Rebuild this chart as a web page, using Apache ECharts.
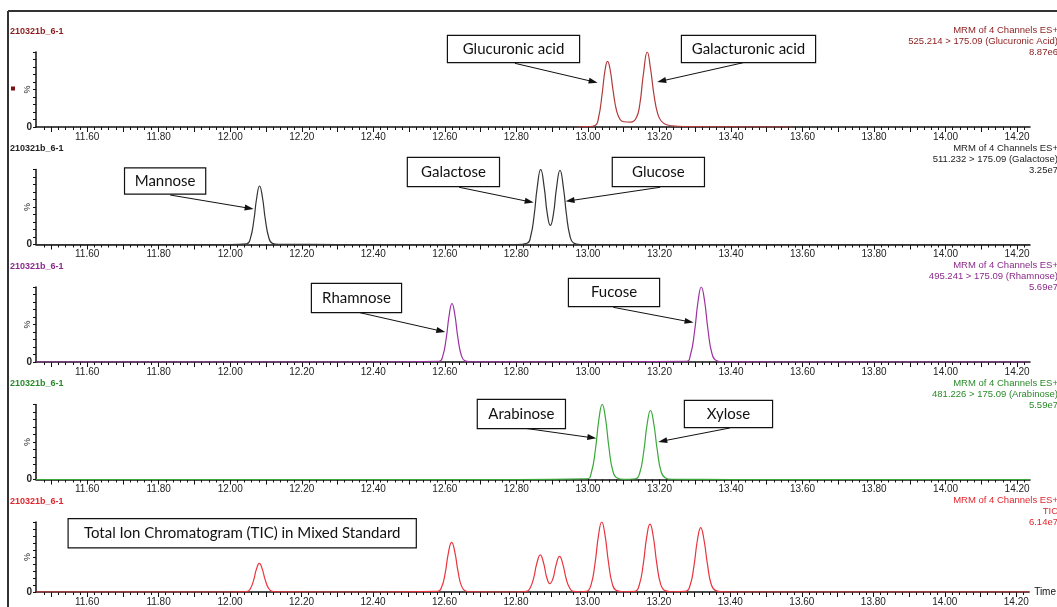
<!DOCTYPE html>
<html>
<head>
<meta charset="utf-8">
<script src="https://cdn.jsdelivr.net/npm/echarts@6/dist/echarts.min.js"></script>
<style>
html, body { margin: 0; padding: 0; background: #fff; }
#main { width: 1057px; height: 607px; }
</style>
</head>
<body>
<div id="main"></div>
<script>
// run / channel headers
var runName = '210321b_6-1';
var channelText = [
    '525.214 > 175.09 (Glucuronic Acid)',
    '511.232 > 175.09 (Galactose)',
    '495.241 > 175.09 (Rhamnose)',
    '481.226 > 175.09 (Arabinose)',
    'TIC'
];
var maxText = ['8.87e6', '3.25e7', '5.69e7', '5.59e7', '6.14e7'];
var xTickLabels = [11.60, 11.80, 12.00, 12.20, 12.40, 12.60, 12.80, 13.00, 13.20, 13.40, 13.60, 13.80, 14.00, 14.20];

// panel 1: uronic acids (time in min, % of max)
var acidTime = [12.970, 13.000, 13.020, 13.030, 13.040, 13.048, 13.055, 13.062, 13.070, 13.080, 13.090, 13.100, 13.120,
    13.135, 13.145, 13.155, 13.166, 13.175, 13.185, 13.195, 13.205, 13.220, 13.250, 13.300, 13.400, 13.570];
var acidPct = [0, 0.5, 2, 13, 45, 76, 87.6, 77, 50, 22, 10, 7, 6.5,
    12, 30, 70, 100, 78, 42, 18, 8, 3, 1, 0.5, 0.3, 0];

// panel 2: hexoses
var hexTime = [11.457, 12.000, 12.046, 12.056, 12.066, 12.074, 12.082, 12.090, 12.098, 12.108, 12.118, 12.135, 12.300,
    12.800, 12.830, 12.840, 12.850, 12.858, 12.868, 12.878, 12.886, 12.895, 12.904, 12.912, 12.922, 12.932, 12.940,
    12.950, 12.960, 12.978, 13.200, 14.236];
var hexPct = [0, 0, 1, 7.5, 32, 62, 78, 63, 34, 9, 1.5, 0.3, 0,
    0, 1.7, 11, 40, 75, 100, 75.5, 42.5, 25.5, 42, 74.5, 99, 74, 40,
    11, 2, 0, 0, 0];

// panel 3: deoxy sugars
var deoxyTime = [11.457, 12.400, 12.584, 12.594, 12.604, 12.612, 12.620, 12.628, 12.636, 12.646, 12.656, 12.670, 12.900,
    13.275, 13.287, 13.298, 13.308, 13.317, 13.326, 13.336, 13.347, 13.359, 13.377, 13.500, 14.236];
var deoxyPct = [0, 0, 1, 7.5, 32, 62, 78, 63, 34, 9, 1.5, 0.3, 0,
    1, 10, 40, 81, 100, 82, 42, 11, 2, 0.3, 0, 0];

// panel 4: pentoses
var pentTime = [11.457, 12.800, 12.998, 13.010, 13.021, 13.031, 13.040, 13.049, 13.059, 13.070, 13.082, 13.100,
    13.133, 13.145, 13.156, 13.166, 13.175, 13.184, 13.194, 13.205, 13.217, 13.235, 13.400, 14.236];
var pentPct = [0, 0, 1, 10, 40, 81, 100, 82, 42, 11, 2, 0.3,
    1, 9, 37, 75, 92, 75, 39, 10, 2, 0.3, 0, 0];

// panel 5: TIC
var ticTime = [11.457, 12.000, 12.046, 12.056, 12.066, 12.074, 12.082, 12.090, 12.098, 12.108, 12.118, 12.135, 12.400,
    12.581, 12.592, 12.602, 12.611, 12.620, 12.629, 12.638, 12.648, 12.659, 12.675, 12.800,
    12.830, 12.840, 12.850, 12.858, 12.868, 12.878, 12.886, 12.895, 12.904, 12.912, 12.922, 12.932, 12.940, 12.950, 12.960, 12.978,
    12.998, 13.010, 13.021, 13.031, 13.040, 13.049, 13.059, 13.070, 13.082, 13.100,
    13.133, 13.145, 13.156, 13.166, 13.175, 13.184, 13.194, 13.205, 13.217, 13.235,
    13.275, 13.287, 13.298, 13.308, 13.317, 13.326, 13.336, 13.347, 13.359, 13.377, 13.450, 14.236];
var ticPct = [0, 0, 0.5, 4, 17, 33, 41, 33, 18, 5, 1, 0.2, 0,
    1, 7, 27, 56, 71, 57, 29, 8, 1.5, 0.2, 0,
    1, 6, 21, 40, 53, 40, 21, 12, 20, 38, 51, 38, 20, 6, 1, 0.3,
    1, 10, 40, 81, 100, 82, 42, 11, 2, 0.3,
    1, 10, 39, 79, 97, 80, 41, 11, 2, 0.3,
    1, 9, 37, 75, 92, 75, 39, 10, 2, 0.3, 0, 0];

// callout boxes + arrows, in data coords of each panel
var notes = [
    { panel: 0, text: 'Glucuronic acid', at: [12.792, 90], dy: -10.5, size: [133, 28], arrow: [[12.796, 84.9], [13.015, 60.4]] },
    { panel: 0, text: 'Galacturonic acid', at: [13.449, 90], dy: -10.5, size: [135, 28], arrow: [[13.434, 85.7], [13.206, 61.3]] },
    { panel: 1, text: 'Mannose', at: [11.818, 84.7], dy: 0, size: [82, 27], arrow: [[11.832, 66], [12.053, 48.3]] },
    { panel: 1, text: 'Galactose', at: [12.624, 96.7], dy: 0, size: [93, 30], arrow: [[12.640, 76.3], [12.836, 57.1]] },
    { panel: 1, text: 'Glucose', at: [13.197, 96.7], dy: 0, size: [93, 30], arrow: [[13.202, 76.3], [12.950, 58.4]] },
    { panel: 2, text: 'Rhamnose', at: [12.353, 85.3], dy: 0, size: [91, 30], arrow: [[12.363, 65.7], [12.589, 41.3]] },
    { panel: 2, text: 'Fucose', at: [13.073, 92.7], dy: 0, size: [92, 29], arrow: [[13.071, 72.9], [13.283, 53.7]] },
    { panel: 3, text: 'Arabinose', at: [12.814, 87.3], dy: 0, size: [89, 30], arrow: [[12.824, 68.3], [13.011, 55.7]] },
    { panel: 3, text: 'Xylose', at: [13.393, 87.3], dy: 0, size: [89, 28], arrow: [[13.397, 68.7], [13.209, 51.3]] },
    { panel: 4, text: 'Total Ion Chromatogram (TIC) in Mixed Standard', at: [12.034, 84], dy: 0, size: [349, 30], arrow: null }
];

var lineColors = ['#b03a3a', '#333333', '#9b30a0', '#38a838', '#e8343c'];
var textColors = ['#8b1c1c', '#222222', '#8b2a8b', '#2a8a2a', '#e0262e'];
var gridTop = [52, 169.5, 287, 404.5, 522];
var tMin = 11.457, tMax = 14.236;

function pairs(t, y) {
    return t.map(function (v, k) { return [v, y[k]]; });
}
var traces = [pairs(acidTime, acidPct), pairs(hexTime, hexPct), pairs(deoxyTime, deoxyPct),
    pairs(pentTime, pentPct), pairs(ticTime, ticPct)];

// tick positions
var majorTicks = [], minorTicks = [];
for (var k = 115; k <= 142; k++) majorTicks.push(k / 10);
for (var k = 574; k <= 711; k++) minorTicks.push(k / 50);

var labelFont = "'Liberation Sans Narrow', 'Liberation Sans', Arial, sans-serif";

var grids = [], xAxes = [], yAxes = [], series = [], graphics = [];
for (var i = 0; i < 5; i++) {
    grids.push({ left: 36, right: 27, top: gridTop[i], height: 75 });
    xAxes.push({
        type: 'value', gridIndex: i, position: 'bottom', min: tMin, max: tMax,
        name: i === 4 ? 'Time' : '', nameLocation: 'end', nameGap: 5,
        nameTextStyle: { fontSize: 10, color: '#111', fontFamily: labelFont },
        axisLine: { lineStyle: { color: '#111', width: 1.5 } },
        axisTick: { customValues: majorTicks, length: 5, lineStyle: { color: '#111' } },
        axisLabel: {
            customValues: xTickLabels, margin: 5, fontSize: 10, color: '#222', fontFamily: labelFont,
            formatter: function (v) { return v.toFixed(2); }
        },
        splitLine: { show: false }
    });
    xAxes.push({
        type: 'value', gridIndex: i, position: 'bottom', min: tMin, max: tMax,
        axisLine: { show: false },
        axisTick: { customValues: minorTicks, length: 3, lineStyle: { color: '#111' } },
        axisLabel: { show: false },
        splitLine: { show: false }
    });
    yAxes.push({
        type: 'value', gridIndex: i, min: 0, max: 100,
        name: '%', nameLocation: 'middle', nameRotate: 90, nameGap: 4, nameMoveOverlap: false,
        nameTextStyle: { fontSize: 9, color: '#222', fontFamily: labelFont },
        axisLine: { lineStyle: { color: '#111', width: 1.5 } },
        axisTick: { customValues: [0, 10, 20, 30, 40, 50, 60, 70, 80, 90, 100], length: 3, lineStyle: { color: '#111' } },
        axisLabel: {
            customValues: [0], margin: 4, fontSize: 10, fontWeight: 'bold', color: '#222', fontFamily: labelFont,
            formatter: function () { return '0'; }
        },
        splitLine: { show: false }
    });

    var mine = notes.filter(function (n) { return n.panel === i; });
    series.push({
        type: 'line', xAxisIndex: 2 * i, yAxisIndex: i,
        data: traces[i], showSymbol: false, smooth: 0.5, silent: true,
        lineStyle: { color: lineColors[i], width: 1.2 },
        markPoint: {
            silent: true, animation: false,
            symbol: 'circle', symbolSize: 1,
            itemStyle: { color: 'rgba(0,0,0,0)' },
            data: mine.map(function (n) {
                return {
                    name: n.text, coord: n.at,
                    label: {
                        show: true, position: 'inside', formatter: '{b}', color: '#111',
                        fontSize: 15, fontFamily: 'Lato, "Open Sans", sans-serif',
                        width: n.size[0] - 2, height: n.size[1] - 2, lineHeight: n.size[1] - 2,
                        align: 'center', verticalAlign: 'middle', padding: 0,
                        backgroundColor: '#fff', borderColor: '#111', borderWidth: 1.2,
                        offset: [0, n.dy]
                    }
                };
            })
        },
        markLine: {
            silent: true, animation: false,
            symbol: ['none', 'triangle'], symbolSize: [6, 9],
            lineStyle: { color: '#111', width: 1, type: 'solid' },
            label: { show: false },
            data: mine.filter(function (n) { return n.arrow; }).map(function (n) {
                return [{ coord: n.arrow[0] }, { coord: n.arrow[1] }];
            })
        }
    });

    // run name (left) and channel info (right)
    graphics.push({
        type: 'text', x: 10, y: gridTop[i] - 26,
        style: { text: runName, fontSize: 9, fontWeight: 'bold', fontFamily: 'Liberation Sans, Arial', fill: textColors[i], lineHeight: 11, verticalAlign: 'top' }
    });
    graphics.push({
        type: 'text', x: 1058, y: gridTop[i] - 27,
        style: {
            text: ['MRM of 4 Channels ES+', channelText[i], maxText[i]].join('\n'),
            align: 'right', verticalAlign: 'top', fontSize: 9.5, lineHeight: 11,
            fontFamily: 'Liberation Sans, Arial', fill: textColors[i]
        }
    });
}

// frame and the small channel marker
graphics.push({ type: 'line', shape: { x1: 8, y1: 11, x2: 1057, y2: 11 }, style: { stroke: '#333', lineWidth: 2 } });
graphics.push({ type: 'line', shape: { x1: 8, y1: 11, x2: 8, y2: 607 }, style: { stroke: '#333', lineWidth: 2 } });
graphics.push({ type: 'rect', shape: { x: 11, y: 86.5, width: 4, height: 4 }, style: { fill: '#7a1010' } });

var chart = echarts.init(document.getElementById('main'));
chart.setOption({
    animation: false,
    backgroundColor: '#fff',
    grid: grids,
    xAxis: xAxes,
    yAxis: yAxes,
    series: series,
    graphic: graphics
});
</script>
</body>
</html>
